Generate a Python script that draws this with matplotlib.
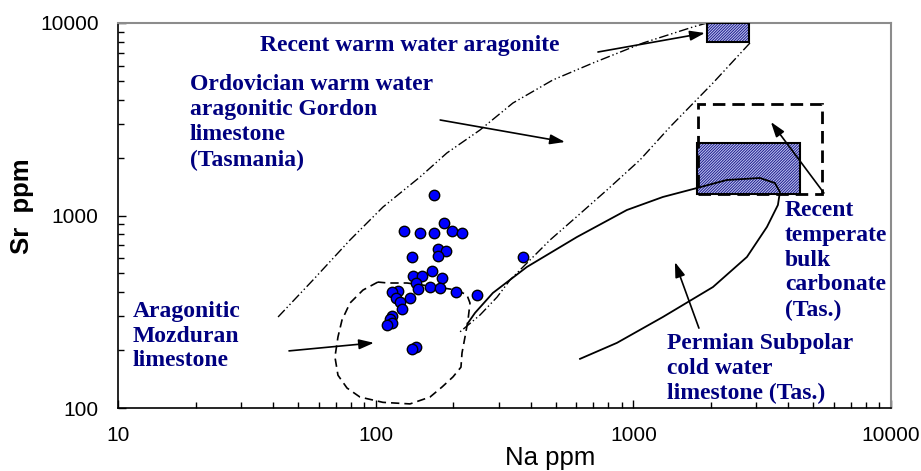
import numpy as np
import matplotlib
matplotlib.use("Agg")
import matplotlib.pyplot as plt
from matplotlib.patches import Rectangle

# sample points (Mozduran limestone)
na_ppm = [168, 184, 129, 149, 168, 198, 216, 175, 188, 175, 138, 373, 165, 140,
          151, 181, 143, 162, 178, 146, 122, 116, 205, 247, 120, 136, 124, 127,
          116, 114, 116, 111, 143, 138]
sr_ppm = [1278, 914, 831, 811, 811, 831, 811, 670, 654, 616, 609, 609, 515, 485,
          485, 473, 446, 425, 420, 415, 405, 400, 400, 386, 373, 373, 355, 327,
          301, 290, 277, 270, 208, 203]

# field outlines (Na, Sr)
ordo_upper_na = [41.8, 57.1, 79.5, 106.7, 148.6, 189, 254, 341, 487, 697, 1090, 1703, 1931]
ordo_upper_sr = [297, 462, 746, 1106, 1585, 2113, 2780, 3841, 5058, 6198, 7873, 9533, 10000]
ordo_lower_na = [2835, 2037, 1387, 1061, 790, 583, 475, 397, 332, 296, 254, 212]
ordo_lower_sr = [7873, 4878, 2882, 1943, 1357, 948, 746, 587, 462, 377, 304, 248]

moz_na = [102, 89.3, 79.5, 74, 71.4, 69.5, 71.4, 77.4, 86.9, 106.7, 135.9, 162.5,
          180.9, 199.5, 214.3, 216.3, 222.2, 228.2, 232.3, 226.2, 206.8, 152.6,
          132.2, 111.6, 102]
moz_sr = [451, 410, 351, 286, 234, 184, 148, 127, 114, 107, 105, 114,
          128.5, 145, 163, 193, 234, 286, 351, 386, 410, 435,
          446, 446, 451]

perm_na = [228, 243, 285, 386, 604, 944, 1302, 1765, 2304, 3099, 3543, 3706,
           3640, 3300, 2760, 2037, 1302, 864, 621]
perm_sr = [276, 312, 396, 540, 773, 1068, 1248, 1389, 1529, 1566, 1475, 1325,
           1134, 872, 609, 425, 297, 218, 180]

# boxes: (na_min, na_max, sr_min, sr_max)
warm_box = (1930, 2800, 8000, 10000)
temp_box = (1766, 4430, 1290, 2380)
temp_range_box = (1780, 5400, 1300, 3800)

# arrows: (tail_na, tail_sr, tip_na, tip_sr)
arrows = [
    (729, 7069, 1896, 8872),
    (178, 3134, 543, 2409),
    (5490, 1309, 3419, 3060),
    (1797, 260, 1450, 573),
    (46.1, 198, 98.5, 218),
]

labels = [
    (260, 45, ["Recent warm water aragonite"]),
    (190, 85, ["Ordovician warm water", "aragonitic Gordon", "limestone", "(Tasmania)"]),
    (133, 311, ["Aragonitic", "Mozduran", "limestone"]),
    (785, 210, ["Recent", "temperate", "bulk", "carbonate", "(Tas.)"]),
    (667, 343, ["Permian Subpolar", "cold water", "limestone (Tas.)"]),
]

fig = plt.figure(figsize=(9.21, 4.71), dpi=100)
ax = fig.add_axes([118 / 921, 1 - 408 / 471, 773 / 921, 385 / 471])
ax.set_xscale("log")
ax.set_yscale("log")
ax.set_xlim(10, 10000)
ax.set_ylim(100, 10000)

navy = "#000080"

# outlines
ax.plot(ordo_upper_na, ordo_upper_sr, color="black", lw=1,
        linestyle=(0, (7, 2, 1, 2, 1, 2)))
ax.plot(ordo_lower_na, ordo_lower_sr, color="black", lw=1,
        linestyle=(0, (7, 2, 1, 2, 1, 2)))
ax.plot(moz_na, moz_sr, color="black", lw=1.2, linestyle=(0, (5, 3)))
ax.plot(perm_na, perm_sr, color="black", lw=1.3, zorder=5)

# hatched boxes
plt.rcParams["hatch.linewidth"] = 0.7
for b in [warm_box, temp_box]:
    ax.add_patch(Rectangle((b[0], b[2]), b[1] - b[0], b[3] - b[2],
                           facecolor="#c4c8f4", edgecolor="#1c1c8a",
                           hatch="/" * 12, lw=0, zorder=3))
    ax.add_patch(Rectangle((b[0], b[2]), b[1] - b[0], b[3] - b[2],
                           facecolor="none", edgecolor="black", lw=1.5, zorder=4))
b = temp_range_box
ax.add_patch(Rectangle((b[0], b[2]), b[1] - b[0], b[3] - b[2],
                       facecolor="none", edgecolor="black", lw=2,
                       linestyle=(0, (4.5, 2.5)), zorder=4))

# points
ax.plot(na_ppm, sr_ppm, "o", color="#0000ff", mec="black", mew=1, ms=7.5, zorder=6)

# arrows
for t in arrows:
    ax.annotate("", xy=(t[2], t[3]), xytext=(t[0], t[1]),
                arrowprops=dict(arrowstyle="-|>,head_length=0.9,head_width=0.3",
                                color="black", lw=1.2, shrinkA=0, shrinkB=0),
                zorder=7)

# labels
for px, py, lines in labels:
    for i, s in enumerate(lines):
        ax.text((px - 118) / 773, (408 - (py + 25 * i)) / 385, s,
                transform=ax.transAxes, ha="left", va="center",
                color=navy, fontsize=17, fontweight="bold",
                family="Liberation Serif", zorder=8)

# axes styling
for side in ["top", "right"]:
    ax.spines[side].set_color("#8c8c8c")
    ax.spines[side].set_linewidth(1.5)
for side in ["left", "bottom"]:
    ax.spines[side].set_color("black")
    ax.spines[side].set_linewidth(1.2)
ax.tick_params(which="both", direction="in", top=False, right=False)
ax.tick_params(which="major", length=6, width=1, labelsize=15, pad=14)
ax.tick_params(which="minor", length=4, width=1)
ax.set_xticks([10, 100, 1000, 10000])
ax.set_xticklabels(["10", "100", "1000", "10000"], family="Liberation Sans")
ax.set_yticks([100, 1000, 10000])
ax.set_yticklabels(["100", "1000", "10000"], family="Liberation Sans")
ax.tick_params(axis="x", which="major", pad=13)

ax.set_xlabel("Na ppm", fontsize=18.5, family="Liberation Sans")
ax.xaxis.set_label_coords((550 - 118) / 773, -(446 - 408) / 385)
ax.set_ylabel("Sr  ppm", fontsize=18.5, family="Liberation Sans", fontweight="bold")
ax.yaxis.set_label_coords(-(118 - 34) / 773, (408 - 206) / 385)

fig.savefig("out.png", dpi=100)
